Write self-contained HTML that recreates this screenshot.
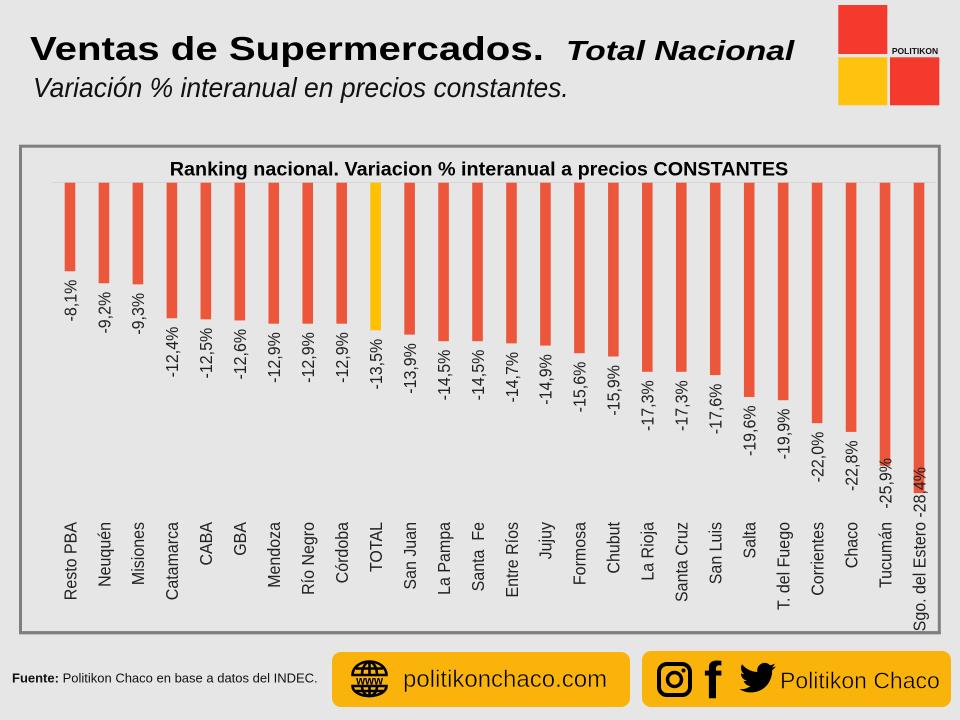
<!DOCTYPE html>
<html>
<head>
<meta charset="utf-8">
<style>
  html,body{margin:0;padding:0;background:#e6e6e6;}
  body{width:960px;height:720px;overflow:hidden;}
  svg{display:block;}
  text{font-family:"Liberation Sans",Arial,sans-serif;}
</style>
</head>
<body>
<svg width="960" height="720" viewBox="0 0 960 720" xmlns="http://www.w3.org/2000/svg">
  <rect x="0" y="0" width="960" height="720" fill="#e6e6e6"/>

  <!-- Title -->
  <text transform="translate(30,60) scale(1.2,1)" font-size="33.5" font-weight="bold" fill="#000">Ventas de Supermercados.</text>
  <text transform="translate(566,60) scale(1.2,1)" font-size="28" font-weight="bold" font-style="italic" fill="#000">Total Nacional</text>
  <text transform="translate(33,97) scale(0.945,1)" font-size="28" font-style="italic" fill="#111">Variación % interanual en precios constantes.</text>

  <!-- Logo -->
  <rect x="838.3" y="5" width="49" height="49" fill="#f4392d"/>
  <rect x="838.3" y="57.3" width="49" height="48" fill="#ffc20e"/>
  <rect x="890" y="57.3" width="49.3" height="48" fill="#f4392d"/>
  <text x="915" y="54" font-size="8.5" font-weight="bold" text-anchor="middle" fill="#111">POLITIKON</text>

  <!-- Chart frame -->
  <rect x="20.5" y="146.2" width="918.8" height="486.5" fill="none" stroke="#7f7f7f" stroke-width="3"/>
  <line x1="52" y1="182.5" x2="936" y2="182.5" stroke="#d6d6d6" stroke-width="1"/>
  <text x="479" y="175.7" font-size="19.8" font-weight="bold" text-anchor="middle" fill="#000">Ranking nacional. Variacion % interanual a precios CONSTANTES</text>

  <!-- Bars -->
  <g fill="#ec573b">
    <rect x="64.70" y="182.7" width="10.6" height="88.53"/>
    <rect x="98.66" y="182.7" width="10.6" height="100.56"/>
    <rect x="132.62" y="182.7" width="10.6" height="101.65"/>
    <rect x="166.58" y="182.7" width="10.6" height="135.53"/>
    <rect x="200.54" y="182.7" width="10.6" height="136.63"/>
    <rect x="234.50" y="182.7" width="10.6" height="137.72"/>
    <rect x="268.46" y="182.7" width="10.6" height="141.00"/>
    <rect x="302.42" y="182.7" width="10.6" height="141.00"/>
    <rect x="336.38" y="182.7" width="10.6" height="141.00"/>
    <rect x="404.30" y="182.7" width="10.6" height="151.93"/>
    <rect x="438.26" y="182.7" width="10.6" height="158.49"/>
    <rect x="472.22" y="182.7" width="10.6" height="158.49"/>
    <rect x="506.18" y="182.7" width="10.6" height="160.67"/>
    <rect x="540.14" y="182.7" width="10.6" height="162.86"/>
    <rect x="574.10" y="182.7" width="10.6" height="170.51"/>
    <rect x="608.06" y="182.7" width="10.6" height="173.79"/>
    <rect x="642.02" y="182.7" width="10.6" height="189.09"/>
    <rect x="675.98" y="182.7" width="10.6" height="189.09"/>
    <rect x="709.94" y="182.7" width="10.6" height="192.37"/>
    <rect x="743.90" y="182.7" width="10.6" height="214.23"/>
    <rect x="777.86" y="182.7" width="10.6" height="217.51"/>
    <rect x="811.82" y="182.7" width="10.6" height="240.46"/>
    <rect x="845.78" y="182.7" width="10.6" height="249.20"/>
    <rect x="879.74" y="182.7" width="10.6" height="283.09"/>
    <rect x="913.70" y="182.7" width="10.6" height="310.41"/>
  </g>
  <rect x="370.34" y="182.7" width="10.6" height="147.56" fill="#ffc000"/>

  <!-- Value labels -->
  <g font-size="16" fill="#222" text-anchor="end">
    <text transform="translate(76.3,279.7) rotate(-90) scale(1,1.1)">-8,1%</text>
    <text transform="translate(110.26,291.8) rotate(-90) scale(1,1.1)">-9,2%</text>
    <text transform="translate(144.22,292.9) rotate(-90) scale(1,1.1)">-9,3%</text>
    <text transform="translate(178.18,326.7) rotate(-90) scale(1,1.1)">-12,4%</text>
    <text transform="translate(212.14,327.8) rotate(-90) scale(1,1.1)">-12,5%</text>
    <text transform="translate(246.10,328.9) rotate(-90) scale(1,1.1)">-12,6%</text>
    <text transform="translate(280.06,332.2) rotate(-90) scale(1,1.1)">-12,9%</text>
    <text transform="translate(314.02,332.2) rotate(-90) scale(1,1.1)">-12,9%</text>
    <text transform="translate(347.98,332.2) rotate(-90) scale(1,1.1)">-12,9%</text>
    <text transform="translate(381.94,338.8) rotate(-90) scale(1,1.1)">-13,5%</text>
    <text transform="translate(415.90,343.1) rotate(-90) scale(1,1.1)">-13,9%</text>
    <text transform="translate(449.86,349.7) rotate(-90) scale(1,1.1)">-14,5%</text>
    <text transform="translate(483.82,349.7) rotate(-90) scale(1,1.1)">-14,5%</text>
    <text transform="translate(517.78,351.9) rotate(-90) scale(1,1.1)">-14,7%</text>
    <text transform="translate(551.74,354.1) rotate(-90) scale(1,1.1)">-14,9%</text>
    <text transform="translate(585.70,361.7) rotate(-90) scale(1,1.1)">-15,6%</text>
    <text transform="translate(619.66,365.0) rotate(-90) scale(1,1.1)">-15,9%</text>
    <text transform="translate(653.62,380.3) rotate(-90) scale(1,1.1)">-17,3%</text>
    <text transform="translate(687.58,380.3) rotate(-90) scale(1,1.1)">-17,3%</text>
    <text transform="translate(721.54,383.6) rotate(-90) scale(1,1.1)">-17,6%</text>
    <text transform="translate(755.50,405.4) rotate(-90) scale(1,1.1)">-19,6%</text>
    <text transform="translate(789.46,408.7) rotate(-90) scale(1,1.1)">-19,9%</text>
    <text transform="translate(823.42,431.7) rotate(-90) scale(1,1.1)">-22,0%</text>
    <text transform="translate(857.38,440.4) rotate(-90) scale(1,1.1)">-22,8%</text>
    <text transform="translate(891.34,458) rotate(-90) scale(1,1.1)">-25,9%</text>
    <text transform="translate(925.30,467) rotate(-90) scale(1,1.1)">-28,4%</text>
  </g>

  <!-- Category labels -->
  <g font-size="16" fill="#222" text-anchor="end">
    <text transform="translate(76.3,522) rotate(-90) scale(1,1.08)">Resto PBA</text>
    <text transform="translate(110.26,522) rotate(-90) scale(1,1.08)">Neuquén</text>
    <text transform="translate(144.22,522) rotate(-90) scale(1,1.08)">Misiones</text>
    <text transform="translate(178.18,522) rotate(-90) scale(1,1.08)">Catamarca</text>
    <text transform="translate(212.14,522) rotate(-90) scale(1,1.08)">CABA</text>
    <text transform="translate(246.10,522) rotate(-90) scale(1,1.08)">GBA</text>
    <text transform="translate(280.06,522) rotate(-90) scale(1,1.08)">Mendoza</text>
    <text transform="translate(314.02,522) rotate(-90) scale(1,1.08)">Río Negro</text>
    <text transform="translate(347.98,522) rotate(-90) scale(1,1.08)">Córdoba</text>
    <text transform="translate(381.94,522) rotate(-90) scale(1,1.08)">TOTAL</text>
    <text transform="translate(415.90,522) rotate(-90) scale(1,1.08)">San Juan</text>
    <text transform="translate(449.86,522) rotate(-90) scale(1,1.08)">La Pampa</text>
    <text transform="translate(483.82,522) rotate(-90) scale(1,1.08)">Santa&#160; Fe</text>
    <text transform="translate(517.78,522) rotate(-90) scale(1,1.08)">Entre Ríos</text>
    <text transform="translate(551.74,522) rotate(-90) scale(1,1.08)">Jujuy</text>
    <text transform="translate(585.70,522) rotate(-90) scale(1,1.08)">Formosa</text>
    <text transform="translate(619.66,522) rotate(-90) scale(1,1.08)">Chubut</text>
    <text transform="translate(653.62,522) rotate(-90) scale(1,1.08)">La Rioja</text>
    <text transform="translate(687.58,522) rotate(-90) scale(1,1.08)">Santa Cruz</text>
    <text transform="translate(721.54,522) rotate(-90) scale(1,1.08)">San Luis</text>
    <text transform="translate(755.50,522) rotate(-90) scale(1,1.08)">Salta</text>
    <text transform="translate(789.46,522) rotate(-90) scale(1,1.08)">T. del Fuego</text>
    <text transform="translate(823.42,522) rotate(-90) scale(1,1.08)">Corrientes</text>
    <text transform="translate(857.38,522) rotate(-90) scale(1,1.08)">Chaco</text>
    <text transform="translate(891.34,522) rotate(-90) scale(1,1.08)">Tucumán</text>
    <text transform="translate(925.30,522) rotate(-90) scale(1,1.08)">Sgo. del Estero</text>
  </g>
  <line x1="19" y1="632.7" x2="940.8" y2="632.7" stroke="#7f7f7f" stroke-width="3"/>

  <!-- Footer source -->
  <text x="12" y="682.7" font-size="13" fill="#111"><tspan font-weight="bold">Fuente:</tspan> Politikon Chaco en base a datos del INDEC.</text>

  <!-- Footer box 1 -->
  <rect x="332" y="652" width="298" height="55" rx="9" ry="9" fill="#f9b30a"/>
  <g fill="none" stroke="#000" stroke-width="2.6">
    <path d="M352.5,675 A17,13.5 0 0 1 386.5,675 Z"/>
    <path d="M362,675 A7.5,13 0 0 1 377,675"/>
    <line x1="369.5" y1="662" x2="369.5" y2="675"/>
    <line x1="356" y1="668.5" x2="383" y2="668.5"/>
    <path d="M352.5,686 A17,10 0 0 0 386.5,686 Z"/>
    <path d="M362,686 A7.5,10 0 0 0 377,686"/>
    <line x1="369.5" y1="686" x2="369.5" y2="696"/>
    <line x1="356" y1="691" x2="383" y2="691"/>
  </g>
  <text x="369.5" y="684.5" font-size="11.5" font-weight="bold" text-anchor="middle" fill="#000">www</text>
  <text x="403" y="687" font-size="24" fill="#000" stroke="#f9b30a" stroke-width="0.5">politikonchaco.com</text>

  <!-- Footer box 2 -->
  <rect x="642" y="651" width="309" height="56" rx="9" ry="9" fill="#f9b30a"/>
  <rect x="659" y="664" width="31" height="31" rx="8" ry="8" fill="none" stroke="#000" stroke-width="4"/>
  <circle cx="674.5" cy="679.5" r="7" fill="none" stroke="#000" stroke-width="3.5"/>
  <circle cx="683.5" cy="670.5" r="2" fill="#000"/>
  <text x="704" y="698" font-size="52" font-weight="bold" fill="#000">f</text>
  <path transform="translate(738,658.5) scale(1.6)" fill="#000" d="M23.643 4.937c-.835.37-1.732.62-2.675.733.962-.576 1.7-1.49 2.048-2.578-.9.534-1.897.922-2.958 1.13-.85-.904-2.06-1.47-3.4-1.470-2.572 0-4.658 2.086-4.658 4.660 0 .364.042.718.12 1.060-3.873-.195-7.304-2.050-9.602-4.868-.4.690-.63 1.490-.63 2.342 0 1.616.823 3.043 2.072 3.878-.764-.025-1.482-.234-2.110-.583v.06c0 2.257 1.605 4.140 3.737 4.568-.392.106-.803.162-1.227.162-.3 0-.593-.028-.877-.082.593 1.850 2.313 3.198 4.352 3.234-1.595 1.250-3.604 1.995-5.786 1.995-.376 0-.747-.022-1.112-.065 2.062 1.323 4.510 2.093 7.140 2.093 8.570 0 13.255-7.098 13.255-13.254 0-.2-.005-.402-.014-.602.910-.658 1.700-1.477 2.323-2.410z"/>
  <text x="780" y="688.3" font-size="23" fill="#000" stroke="#f9b30a" stroke-width="0.5">Politikon Chaco</text>
</svg>
</body>
</html>
